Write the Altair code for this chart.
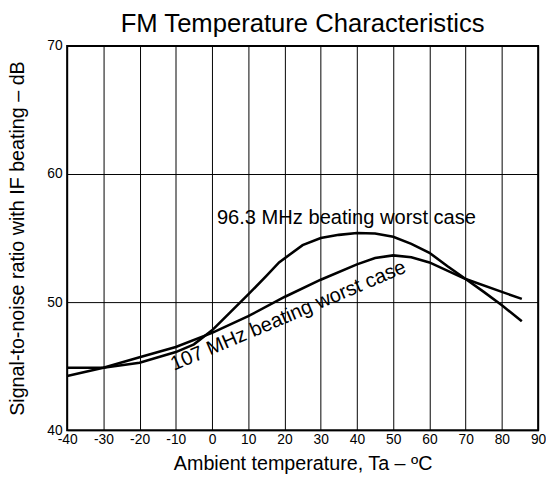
import altair as alt
import pandas as pd

# 96.3 MHz beating worst case
temp_963 = [-40, -30, -20, -10, -5, 0, 5, 10, 15, 18.5, 25, 30, 35, 40, 45, 50, 55, 60, 65, 70, 75, 80, 85.5]
snr_963 = [44.87, 44.87, 45.26, 46.1, 46.7, 47.8, 49.2, 50.6, 52.05, 53.1, 54.45, 55.0, 55.25, 55.4, 55.36, 55.1, 54.55, 53.85, 52.8, 51.8, 50.8, 49.75, 48.5]

# 107 MHz beating worst case
temp_107 = [-40, -30, -20, -10, 0, 10, 20, 30, 40, 45, 50, 55, 60, 70, 80, 85.5]
snr_107 = [44.23, 44.87, 45.7, 46.5, 47.6, 48.9, 50.4, 51.75, 52.95, 53.45, 53.65, 53.5, 53.1, 51.8, 50.8, 50.25]

x_ticks = list(range(-40, 91, 10))
y_ticks = [40, 50, 60, 70]

label_text = ["96.3 MHz beating worst case", "107 MHz beating worst case"]
label_t = [37.1, 21.7]
label_v = [56.08, 48.5]

FONT = "Liberation Sans"

df = pd.concat([
    pd.DataFrame({"T": temp_963, "SNR": snr_963, "series": "96.3"}),
    pd.DataFrame({"T": temp_107, "SNR": snr_107, "series": "107"}),
])
lab = pd.DataFrame({"text": label_text, "T": label_t, "SNR": label_v})

xscale = alt.Scale(domain=[-40, 90], nice=False, zero=False)
yscale = alt.Scale(domain=[40, 70], nice=False, zero=False)

xaxis = alt.Axis(
    values=x_ticks, grid=True, gridColor="black", gridWidth=1, gridOpacity=1,
    ticks=False, domain=False, labelFont=FONT, labelFontSize=14, labelColor="black",
    labelPadding=3, labelFlush=False, labelOverlap=False,
    labelExpr="'' + datum.value",
    title="Ambient temperature, Ta – ºC", titleFont=FONT, titleFontSize=20,
    titleFontWeight="normal", titleColor="black", titleBaseline="alphabetic",
    titleY=40, titleX=239, titleAnchor="middle", titleAlign="center",
)
yaxis = alt.Axis(
    values=y_ticks, grid=True, gridColor="black", gridWidth=1, gridOpacity=1,
    ticks=False, domain=False, labelFont=FONT, labelFontSize=14, labelColor="black",
    labelPadding=5, labelOverlap=False, labelFlush=False,
    labelExpr="'' + datum.value",
    title="Signal-to-noise ratio with IF beating – dB", titleFont=FONT, titleFontSize=20,
    titleFontWeight="normal", titleColor="black", titleBaseline="alphabetic",
    titleX=-44, titleY=195, titleAngle=270, titleAlign="center",
)

X = alt.X("T:Q", scale=xscale, axis=xaxis)
Y = alt.Y("SNR:Q", scale=yscale, axis=yaxis)

lines = alt.Chart(df).mark_line(color="black", strokeWidth=2.6).encode(
    x=X, y=Y, detail="series:N",
)

t1 = alt.Chart(lab.iloc[[0]]).mark_text(
    font=FONT, fontSize=20.4, color="black", align="center", baseline="alphabetic"
).encode(x=X, y=Y, text="text:N")

t2 = alt.Chart(lab.iloc[[1]]).mark_text(
    font=FONT, fontSize=20.4, color="black", align="center", baseline="alphabetic", angle=337
).encode(x=X, y=Y, text="text:N")

chart = alt.layer(lines, t1, t2).properties(
    width=478, height=390,
    title=alt.TitleParams("FM Temperature Characteristics", font=FONT, fontSize=26,
                          fontWeight="normal", color="black", offset=2, anchor="middle"),
    autosize=alt.AutoSizeParams(type="none"),
    padding={"left": 60, "top": 35, "right": 8, "bottom": 44},
).configure_view(stroke="black", strokeWidth=2)

chart.save("out.html", embed_options={"renderer": "svg", "actions": False})
